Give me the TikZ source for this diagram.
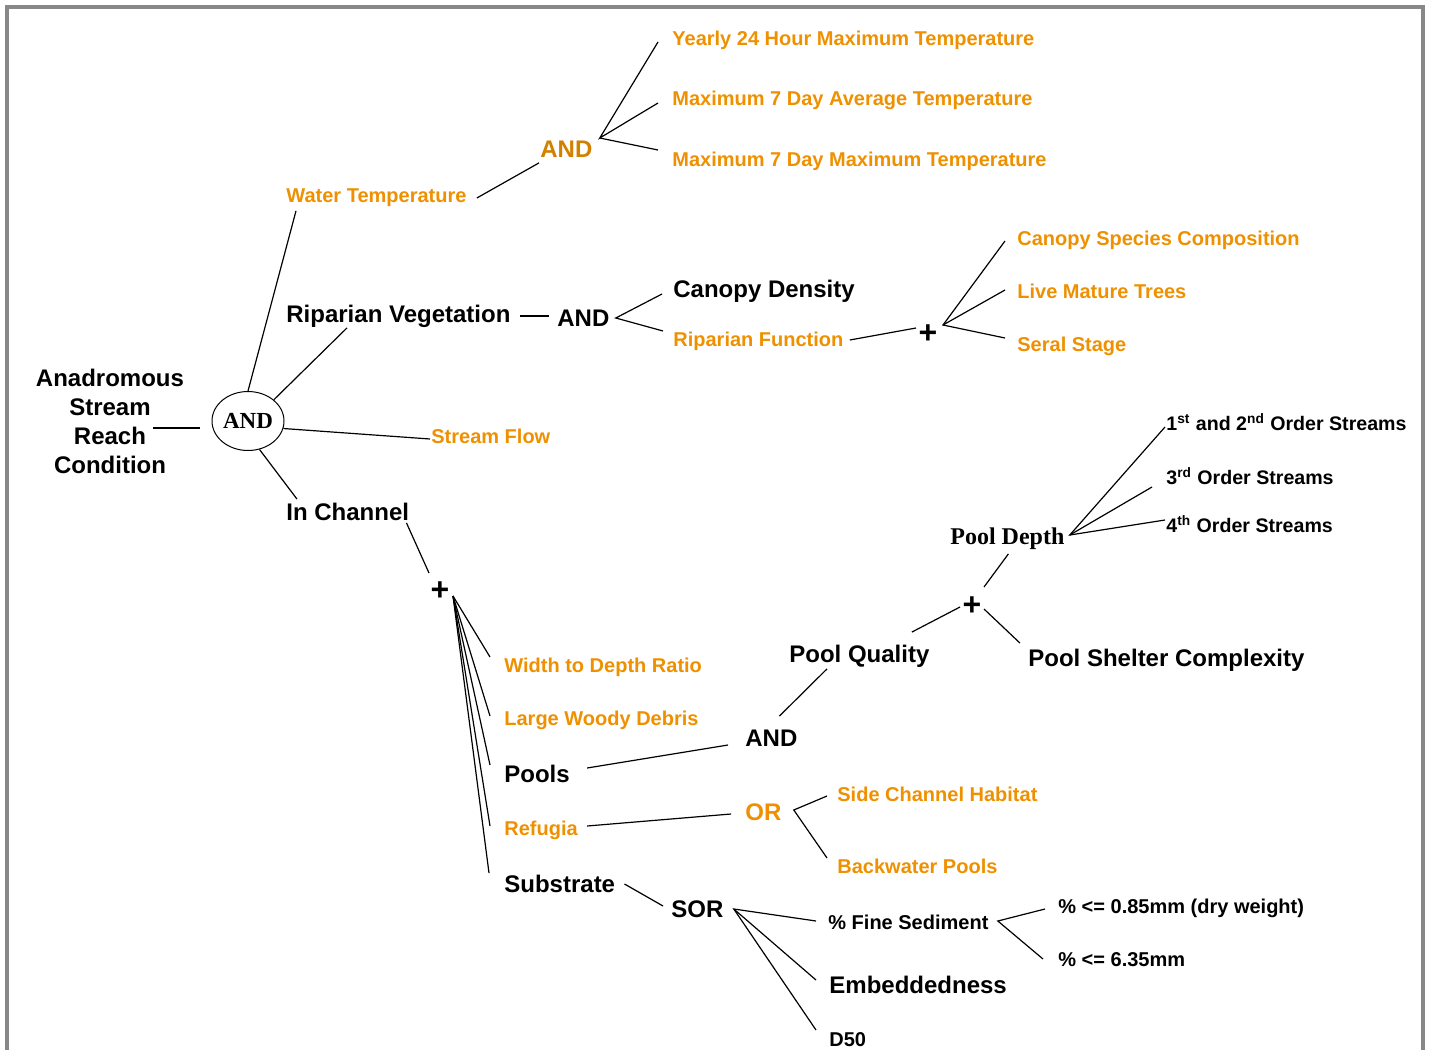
\documentclass[tikz,border=0pt]{standalone}
\usepackage{fontspec}
\setmainfont{Liberation Sans}
\newfontfamily\serifbold{Liberation Serif}
\usetikzlibrary{shapes.geometric}

\definecolor{leaforange}{HTML}{EE9000}
\definecolor{andorange}{HTML}{D28000}
\definecolor{framegray}{HTML}{888888}

\tikzset{
    big/.style={font=\bfseries\fontsize{12}{14.5}\selectfont, text height=10pt, text depth=1.5pt, inner sep=1pt, anchor=west},
    leaf/.style={font=\bfseries\fontsize{10}{12}\selectfont, text=leaforange, text height=8.5pt, text depth=1pt, inner sep=1pt, anchor=west},
    note/.style={font=\bfseries\fontsize{10}{12}\selectfont, text height=8.5pt, text depth=1pt, inner sep=1pt, anchor=west},
    order/.style={font=\bfseries\fontsize{9.8}{11}\selectfont, text height=8.5pt, text depth=1pt, inner sep=1pt, anchor=west},
    plussign/.style={font=\bfseries\fontsize{16}{16}\selectfont, inner sep=0pt},
    link/.style={line width=0.6pt}
}

\begin{document}
\begin{tikzpicture}[x=0.5pt, y=-0.5pt]

\useasboundingbox (0,0) rectangle (1431,1050);

% Frame
\draw[framegray, line width=2pt] (7,1060) -- (7,7) -- (1423,7) -- (1423,1060);

% Root
\node[font=\bfseries\fontsize{12}{14.5}\selectfont, align=center, inner sep=1pt] (title) at (110,421)
    {Anadromous\\Stream\\Reach\\Condition};
\node[draw, ellipse, line width=0.5pt, inner sep=0pt, minimum width=36pt, minimum height=29.5pt,
    font=\serifbold\bfseries\fontsize{11.5}{12}\selectfont] (root) at (248,421) {AND};

% Water temperature branch
\node[leaf] (wt) at (284,195) {Water Temperature};
\node[big, text=andorange] (and1) at (538,149) {AND};
\node[leaf] (y24) at (670,38) {Yearly 24 Hour Maximum Temperature};
\node[leaf] (m7a) at (670,98) {Maximum 7 Day Average Temperature};
\node[leaf] (m7m) at (670,159) {Maximum 7 Day Maximum Temperature};

% Riparian branch
\node[big] (rv) at (284,314) {Riparian Vegetation};
\node[big] (and2) at (555,318) {AND};
\node[big] (cd) at (671,289) {Canopy Density};
\node[leaf] (rf) at (671,339) {Riparian Function};
\node[plussign] (plus1) at (928,334) {+};
\node[leaf] (csc) at (1015,238) {Canopy Species Composition};
\node[leaf] (lmt) at (1015,291) {Live Mature Trees};
\node[leaf] (ss) at (1015,344) {Seral Stage};

% Stream flow
\node[leaf] (sf) at (429,436) {Stream Flow};

% In channel branch
\node[big] (ic) at (284,512) {In Channel};
\node[plussign] (plus2) at (440,591) {+};
\node[leaf] (wdr) at (502,665) {Width to Depth Ratio};
\node[leaf] (lwd) at (502,718) {Large Woody Debris};
\node[big] (pools) at (502,774) {Pools};
\node[leaf] (refu) at (502,828) {Refugia};
\node[big] (sub) at (502,884) {Substrate};

% Pools
\node[big] (and3) at (743,738) {AND};
\node[big] (pq) at (787,654) {Pool Quality};
\node[plussign] (plus3) at (972,606) {+};
\node[font=\serifbold\bfseries\fontsize{12}{14}\selectfont, text height=10pt, text depth=1.5pt,
    inner sep=1pt, anchor=west] (pd) at (948,536) {Pool Depth};
\node[big] (psc) at (1026,658) {Pool Shelter Complexity};
\node[order] (o12) at (1164,423) {1\textsuperscript{st} and 2\textsuperscript{nd} Order Streams};
\node[order] (o3) at (1164,477) {3\textsuperscript{rd} Order Streams};
\node[order] (o4) at (1164,525) {4\textsuperscript{th} Order Streams};

% Refugia
\node[big, text=leaforange] (or) at (743,812) {OR};
\node[leaf] (sch) at (835,794) {Side Channel Habitat};
\node[leaf] (bp) at (835,866) {Backwater Pools};

% Substrate
\node[big] (sor) at (669,909) {SOR};
\node[note] (fs) at (826,922) {\% Fine Sediment};
\node[big] (emb) at (827,985) {Embeddedness};
\node[note] (d50) at (827,1039) {D50};
\node[note] (p085) at (1056,906) {\% <= 0.85mm (dry weight)};
\node[note] (p635) at (1056,959) {\% <= 6.35mm};

% Connectors
\draw[link] ([shift={(-33,7)}]title.east) -- ([shift={(-12,7)}]root.west);
\draw[link] (root.north) -- ([shift={(12,4)}]wt.south west);
\draw[link] (root.north east) -- ([shift={(63,0)}]rv.south west);
\draw[link] (root.-12) -- ([shift={(1,3)}]sf.west);
\draw[link] (root.-68) -- ([shift={(13,1)}]ic.north west);

\draw[link] ([shift={(8,3)}]wt.east) -- ([shift={(1,0)}]and1.south west);
\draw[link] ([shift={(-12,4)}]y24.west) -- ([shift={(5,-11)}]and1.east) -- ([shift={(-12,5)}]m7a.west);
\draw[link] ([shift={(5,-11)}]and1.east) -- ([shift={(-12,-9)}]m7m.west);

\draw[link] ([shift={(7,2)}]rv.east) -- ([shift={(-6,-2)}]and2.west);
\draw[link] ([shift={(-9,5)}]cd.west) -- ([shift={(4,0)}]and2.east) -- ([shift={(-8,-8)}]rf.west);
\draw[link] ([shift={(4,1)}]rf.east) -- ([shift={(-12,-6)}]plus1.center);
\draw[link] ([shift={(-10,3)}]csc.west) -- ([shift={(15,-9)}]plus1.center) -- ([shift={(-10,-6)}]ss.west);
\draw[link] ([shift={(15,-9)}]plus1.center) -- ([shift={(-10,-1)}]lmt.west);

\draw[link] ([shift={(-5,-3)}]ic.south east) -- ([shift={(-11,-18)}]plus2.center);
\foreach \leafnode/\dx/\dy in {wdr/-12/-8, lwd/-12/-2, pools/-12/-9, refu/-12/-2, sub/-13/-11}
    \draw[link] ([shift={(13,5)}]plus2.center) -- ([shift={(\dx,\dy)}]\leafnode.west);

\draw[link] ([shift={(15,-6)}]pools.east) -- ([shift={(-15,7)}]and3.west);
\draw[link] ([shift={(8,-8)}]and3.north) -- ([shift={(40,1)}]pq.south west);
\draw[link] ([shift={(-20,-8)}]pq.north east) -- ([shift={(-12,1)}]plus3.center);
\draw[link] ([shift={(12,-19)}]plus3.center) -- ([shift={(1,4)}]pd.south);
\draw[link] ([shift={(12,3)}]plus3.center) -- ([shift={(-6,-1)}]psc.north west);
\draw[link] ([shift={(1,4)}]o12.west) -- ([shift={(3,-1)}]pd.east) -- ([shift={(1,-5)}]o4.west);
\draw[link] ([shift={(3,-1)}]pd.east) -- ([shift={(-12,10)}]o3.west);

\draw[link] ([shift={(7,-2)}]refu.east) -- ([shift={(-12,2)}]or.west);
\draw[link] ([shift={(-8,2)}]sch.west) -- ([shift={(10,-2)}]or.east) -- ([shift={(-8,-8)}]bp.west);

\draw[link] ([shift={(7,0)}]sub.east) -- ([shift={(-6,-3)}]sor.west);
\draw[link] ([shift={(-10,-1)}]fs.west) -- ([shift={(8,0)}]sor.east) -- ([shift={(-11,-9)}]d50.west);
\draw[link] ([shift={(8,0)}]sor.east) -- ([shift={(-11,-5)}]emb.west);
\draw[link] ([shift={(-11,3)}]p085.west) -- ([shift={(7,-1)}]fs.east) -- ([shift={(-13,0)}]p635.west);

\end{tikzpicture}
\end{document}
